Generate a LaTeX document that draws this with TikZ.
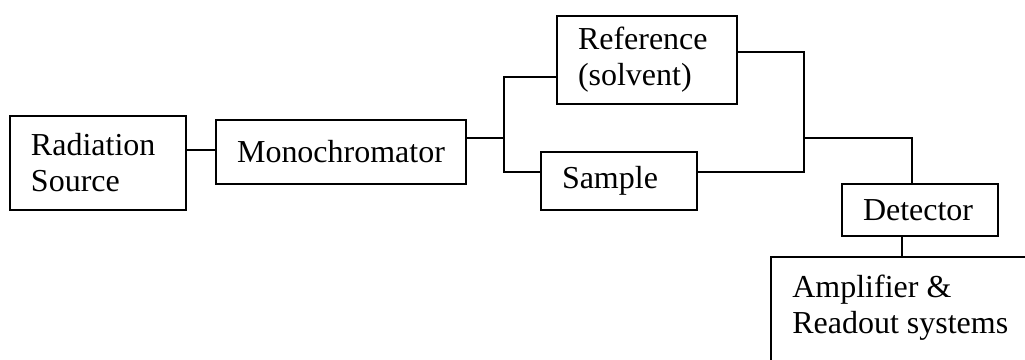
\documentclass[tikz,border=0pt]{standalone}
\usepackage{fontspec}
\setmainfont{Liberation Serif}
\tikzset{
  blk/.style={draw, line width=1.1pt, inner xsep=0.42cm, inner ysep=0pt, align=left},
  wire/.style={line width=1.1pt}
}
\begin{document}
\begin{tikzpicture}[x=0.2mm,y=-0.2mm,font=\fontsize{18.2}{20.5}\selectfont]
\clip (0,0) rectangle (1025,360);
\node[blk, text width=2.68cm, minimum height=1.88cm] (src) at (98,163) {Radiation\\Source};
\node[blk, align=center, minimum width=5cm, minimum height=1.28cm] (mono) at (341,152) {Monochromator};
\node[blk, text width=2.76cm, minimum height=1.76cm] (ref) at (647,60) {Reference\\(solvent)};
\node[blk, text width=2.28cm, minimum height=1.16cm] (smp) at (619,181) {Sample};
\node[blk, text width=2.28cm, minimum height=1.04cm] (det) at (920,210) {Detector};
\node[draw, line width=1.1pt, anchor=north west, minimum width=6cm, minimum height=3cm] (amp) at (770,256) {};
\node[anchor=north west, inner sep=0pt, align=left] (amptxt) at (792,275) {Amplifier \&\\Readout systems};
\coordinate (split) at (504,138);
\coordinate (merge) at (804,138);
\draw[wire] (src.east |- 0,150) -- (mono.west |- 0,150);
\draw[wire] (mono.east |- split) -- (split);
\draw[wire] (ref.west |- 0,77) -| (split) |- (smp.west |- 0,172);
\draw[wire] (ref.east |- 0,52) -| (merge) |- (smp.east |- 0,172);
\draw[wire] (merge) -| (det.north -| 912,0);
\draw[wire] (det.south -| 902,0) -- (amp.north -| 902,0);
\end{tikzpicture}
\end{document}
